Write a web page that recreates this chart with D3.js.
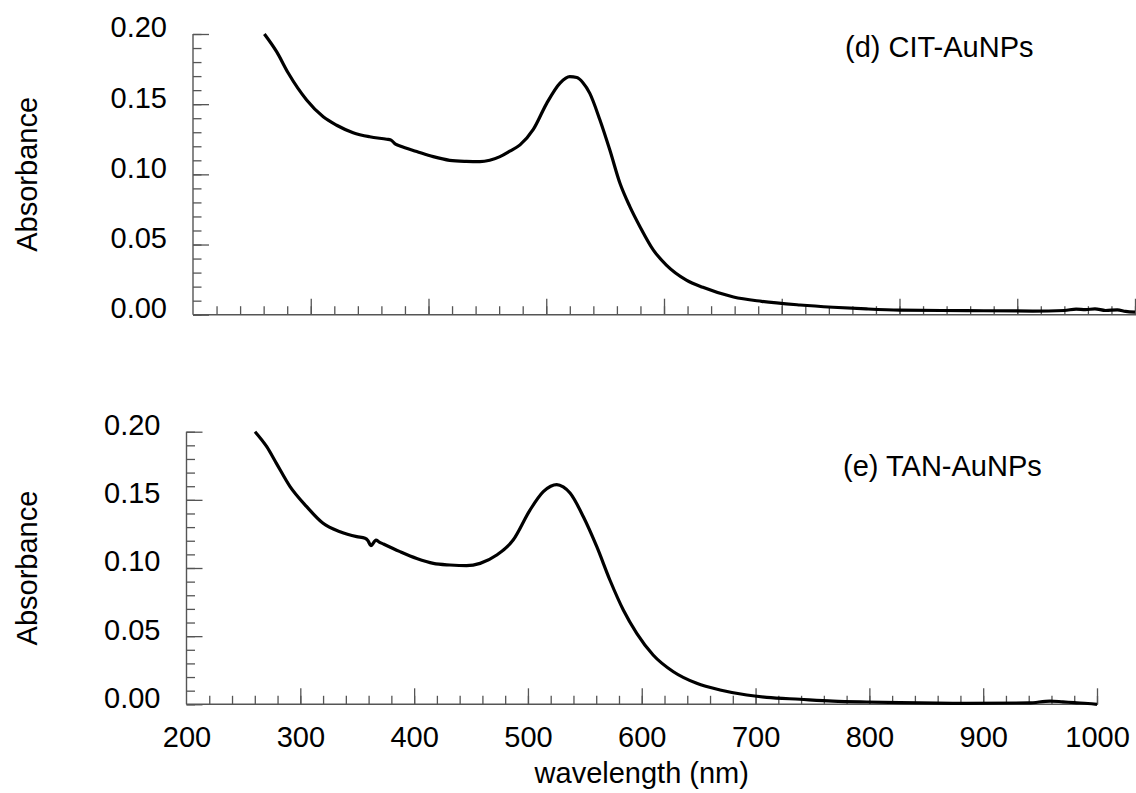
<!DOCTYPE html>
<html>
<head>
<meta charset="utf-8">
<script src="https://cdn.jsdelivr.net/npm/d3@7.9.0/dist/d3.min.js"></script>
<style>
  body { margin: 0; background: #fff; }
  svg { display: block; font-family: "Liberation Sans", Arial, sans-serif; }
  .tick text { font-size: 29px; fill: #000; }
  .axis-line { stroke: #555; stroke-width: 1.4; }
  .ticks .tick line { stroke: #555; stroke-width: 1.3; }
</style>
</head>
<body>
<svg id="chart" width="1136" height="793"></svg>
<script>
// tick values
const yMajor = [0, 0.05, 0.10, 0.15, 0.20];
const xMajor = [200, 300, 400, 500, 600, 700, 800, 900, 1000];

// (d) CIT-AuNPs: [wavelength nm, absorbance]
const citSpectrum = [
  [260.6, 0.200], [271, 0.1874], [281, 0.172], [296.5, 0.153], [310.6, 0.141],
  [322, 0.135], [336, 0.1297], [350, 0.1268], [364.5, 0.125], [368, 0.1245],
  [372, 0.1215], [375.8, 0.1202], [390, 0.1163], [404, 0.1126], [418, 0.1100],
  [432, 0.1092], [443.7, 0.1090], [452, 0.1100], [460.7, 0.1126], [469, 0.1165],
  [477.7, 0.1210], [489, 0.1320], [500.4, 0.1506], [511.7, 0.1650], [520, 0.1696],
  [526, 0.1690], [531, 0.1655], [537, 0.1577], [545.6, 0.1387], [554, 0.1173],
  [562.6, 0.0936], [571, 0.0770], [579.6, 0.0627], [591, 0.0460], [602, 0.0354],
  [619, 0.0247], [633, 0.0195], [659, 0.0126], [683, 0.0095], [715.5, 0.0069],
  [743.5, 0.0053], [772, 0.0041], [800, 0.0033], [857, 0.0029], [913.5, 0.0026],
  [940, 0.0030], [950, 0.0040], [958, 0.0036], [966, 0.0042], [975, 0.0030],
  [985, 0.0034], [992, 0.0024], [1000, 0.0018]
];

// (e) TAN-AuNPs: [wavelength nm, absorbance]
const tanSpectrum = [
  [260.2, 0.200], [270.5, 0.189], [279, 0.1768], [291, 0.1597], [305.6, 0.145],
  [320, 0.1328], [334.9, 0.1266], [349.6, 0.1230], [356.9, 0.1218], [359.5, 0.1200],
  [362, 0.1164], [366.5, 0.1205], [369, 0.1192], [373, 0.1176], [387.6, 0.1120],
  [402.3, 0.1070], [416.9, 0.1034], [431.5, 0.1022], [446, 0.1017], [458, 0.1034],
  [472.6, 0.1095], [487, 0.1205], [501.8, 0.1425], [513.5, 0.1560], [520, 0.1600],
  [525.3, 0.1612], [531, 0.1595], [537, 0.1550], [548.7, 0.1376], [560.5, 0.1156],
  [572, 0.0912], [583.8, 0.0692], [595.6, 0.0521], [610, 0.0362], [627.8, 0.0239],
  [648.3, 0.0154], [668.8, 0.0105], [692.3, 0.0068], [709.8, 0.0051], [739, 0.0037],
  [768, 0.0024], [797.7, 0.0017], [827, 0.0012], [885.6, 0.0007], [940, 0.0010],
  [958.8, 0.0024], [970, 0.0018], [980, 0.0012], [992, 0.0006], [1000, 0.0000]
];

const panels = [
  { data: citSpectrum, label: "(d) CIT-AuNPs", x0: 193, x1: 1135, yTop: 34, yBot: 314.7,
    labelX: 845, labelY: 57, showX: false },
  { data: tanSpectrum, label: "(e) TAN-AuNPs", x0: 186.5, x1: 1097, yTop: 431.7, yBot: 704.3,
    labelX: 843, labelY: 476, showX: true }
];

const svg = d3.select("#chart");
const yMinor = d3.range(0, 0.2001, 0.01);
const xMinor = d3.range(200, 1000.1, 20);

panels.forEach((p) => {
  const x = d3.scaleLinear().domain([200, 1000]).range([p.x0, p.x1]);
  const y = d3.scaleLinear().domain([0, 0.2]).range([p.yBot, p.yTop]);
  const g = svg.append("g");

  // axis lines
  g.append("line").attr("class", "axis-line")
    .attr("x1", p.x0).attr("x2", p.x0).attr("y1", p.yTop).attr("y2", p.yBot);
  g.append("line").attr("class", "axis-line")
    .attr("x1", p.x0).attr("x2", Math.min(p.x1 + 1, 1136)).attr("y1", p.yBot).attr("y2", p.yBot);

  // inward ticks, minor then major
  g.append("g").attr("class", "ticks").attr("transform", `translate(${p.x0},0)`)
    .call(d3.axisRight(y).tickValues(yMinor).tickSize(8.5).tickFormat(""))
    .call((s) => s.select(".domain").remove());
  g.append("g").attr("class", "ticks").attr("transform", `translate(${p.x0},0)`)
    .call(d3.axisRight(y).tickValues(yMajor).tickSize(16).tickFormat(""))
    .call((s) => s.select(".domain").remove());
  g.append("g").attr("class", "ticks").attr("transform", `translate(0,${p.yBot})`)
    .call(d3.axisTop(x).tickValues(xMinor.filter((v) => v > 200)).tickSize(8.5).tickFormat(""))
    .call((s) => s.select(".domain").remove());
  g.append("g").attr("class", "ticks").attr("transform", `translate(0,${p.yBot})`)
    .call(d3.axisTop(x).tickValues(xMajor.filter((v) => v > 200)).tickSize(16).tickFormat(""))
    .call((s) => s.select(".domain").remove());

  // y tick labels
  g.append("g").attr("transform", `translate(${p.x0},0)`)
    .call(d3.axisLeft(y).tickValues(yMajor).tickSize(0).tickPadding(26).tickFormat(d3.format(".2f")))
    .call((s) => s.select(".domain").remove())
    .call((s) => s.selectAll("text").attr("dy", "0.1em"));

  if (p.showX) {
    g.append("g").attr("transform", `translate(0,${p.yBot})`)
      .call(d3.axisBottom(x).tickValues(xMajor).tickSize(0).tickPadding(22).tickFormat(d3.format("d")))
      .call((s) => s.select(".domain").remove());
    g.append("text")
      .attr("x", (p.x0 + p.x1) / 2).attr("y", 783)
      .attr("text-anchor", "middle").attr("font-size", 29)
      .text("wavelength (nm)");
  }

  // y title
  g.append("text")
    .attr("transform", `translate(37,${(p.yTop + p.yBot) / 2}) rotate(-90)`)
    .attr("text-anchor", "middle").attr("font-size", 29)
    .text("Absorbance");

  // spectrum
  const line = d3.line()
    .x((d) => x(d[0]))
    .y((d) => y(d[1]))
    .curve(d3.curveMonotoneX);
  g.append("path").datum(p.data)
    .attr("fill", "none").attr("stroke", "#000")
    .attr("stroke-width", 3.2).attr("stroke-linejoin", "round")
    .attr("d", line);

  g.append("text")
    .attr("x", p.labelX).attr("y", p.labelY).attr("font-size", 29)
    .text(p.label);
});
</script>
</body>
</html>
